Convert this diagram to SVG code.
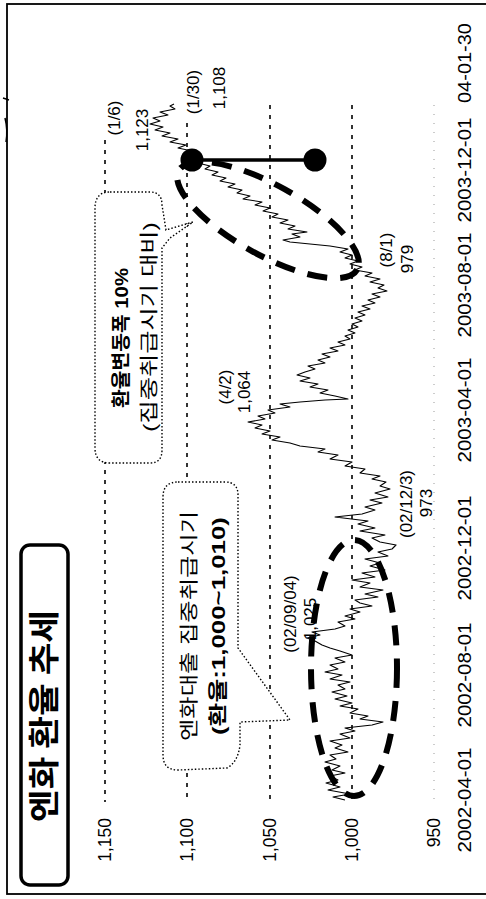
<svg xmlns="http://www.w3.org/2000/svg" width="486" height="899" viewBox="0 0 486 899">
<style>
.grid{stroke:#000;stroke-width:1.6;stroke-dasharray:4 6;fill:none}
.grid950{stroke:#999;stroke-width:1;stroke-dasharray:1 8;fill:none}
.ax{font-family:"Liberation Sans",Arial,sans-serif;font-size:17.5px;fill:#000}
.lbl{font-family:"Liberation Sans",Arial,sans-serif;font-size:17px;fill:#000}
.ko{font-family:"Liberation Sans","Noto Sans CJK KR",sans-serif;font-size:19px;fill:#000}
.b{font-weight:bold}
.call{fill:#fff;stroke:#000;stroke-width:1.4;stroke-dasharray:1.5 2}
.ell{fill:none;stroke:#000;stroke-width:6;stroke-dasharray:20 13}
</style>
<rect width="486" height="899" fill="#fff"/>
<g id="frame">
<rect x="7" y="4" width="500" height="890" fill="#fff" stroke="#000" stroke-width="1.8"/>
<path d="M3,98 L9,100 M5,118 Q8,130 6,142" fill="none" stroke="#000" stroke-width="1.5"/>
</g>
<g id="grid">
<line class="grid" x1="105" y1="140" x2="105" y2="802"/>
<line class="grid" x1="187" y1="123" x2="187" y2="802"/>
<line class="grid" x1="270" y1="105" x2="270" y2="802"/>
<line class="grid" x1="352" y1="105" x2="352" y2="802"/>
<line class="grid950" x1="434" y1="105" x2="434" y2="802"/>
</g>
<g id="series">
<polyline fill="none" stroke="#000" stroke-width="1.1" stroke-linejoin="round" points="345,800 333,797 350,794 328,790 340,787 326,783 338,780 330,776 345,773 332,770 340,766 325,762 336,759 330,755 348,752 335,748 342,745 330,741 350,738 340,734 355,731 345,728 372,725 383,722 360,719 368,716 350,713 358,709 340,706 352,703 335,699 347,696 332,692 345,689 338,685 350,682 330,679 342,675 325,672 338,669 330,665 345,662 335,658 352,655 340,651 330,648 322,645 315,641 307,638 320,635 312,632 335,629 345,626 338,622 355,619 345,616 360,612 350,609 372,606 360,603 355,600 378,597 365,594 383,590 360,587 370,583 352,580 375,577 362,573 385,570 370,566 380,563 365,559 388,556 378,552 392,549 396,545 380,542 372,538 385,535 360,531 375,528 358,524 368,521 335,517 362,514 375,510 365,507 382,503 370,500 388,497 375,493 390,489 380,486 386,482 372,479 380,476 360,473 365,469 345,466 352,462 330,459 338,455 318,452 325,449 300,446 290,443 272,440 280,437 262,434 270,431 255,428 262,425 248,422 265,419 258,416 275,413 268,410 290,407 280,404 300,402 325,400 348,399 335,396 320,393 328,390 310,387 318,384 300,381 310,378 297,375 305,372 315,369 308,366 325,363 318,360 330,357 322,354 338,351 330,348 345,345 338,342 350,339 345,336 355,333 348,330 358,327 352,324 362,321 355,318 365,315 358,312 370,309 362,306 375,303 368,300 380,297 372,294 387,291 378,288 384,285 370,282 380,279 365,276 372,273 355,270 362,267 350,264 358,261 345,258 352,255 340,252 348,249 330,246 310,244 290,242 283,240 300,237 292,234 307,232 288,229 295,226 280,223 288,220 272,217 278,214 263,211 270,208 255,205 262,202 243,199 250,196 237,193 242,190 228,187 235,184 220,181 226,178 212,175 218,172 205,169 210,166 198,163 192,160 200,157 185,154 192,151 178,148 186,145 170,142 178,139 162,136 170,133 155,130 163,127 150,124 160,121 153,118 168,115 160,112 175,109 170,106 174,104"/>
</g>
<g id="annotations">
<ellipse class="ell" cx="268" cy="220" rx="102" ry="35" transform="rotate(29 268 220)"/>
<ellipse class="ell" cx="354" cy="668" rx="43" ry="128"/>
<line x1="192" y1="160" x2="315" y2="160" stroke="#000" stroke-width="3.5"/>
<circle cx="192" cy="160" r="11.5" fill="#000"/>
<circle cx="315" cy="160" r="11.5" fill="#000"/>
</g>
<g id="callout-range">
<path class="call" d="M110,192 L150,192 Q162,192 162,205 L166,230 L193,222 L170,238 L162,248 L162,450 Q162,463 150,463 L110,463 Q95,463 95,448 L95,208 Q95,192 110,192 Z"/>
</g>
<g id="callout-period">
<path class="call" d="M178,482 L225,482 Q238,482 238,495 L238,648 L290,720 L240,722 L240,745 Q238,762 227,768 L178,770 Q163,770 163,755 L163,497 Q163,482 178,482 Z"/>
</g>
<g id="title">
<rect x="21" y="545" width="47" height="340" rx="9" fill="#fff" stroke="#000" stroke-width="3.5"/>
</g>
<g id="texts" transform="matrix(0,-1,1,0,0,899)">
<text x="183" y="54.5" text-anchor="middle" font-family="'Noto Sans CJK KR',sans-serif" font-weight="bold" font-size="31" textLength="212" lengthAdjust="spacingAndGlyphs">엔화 환율 추세</text>
<g class="ax" text-anchor="end">
<text x="81" y="111">1,150</text>
<text x="81" y="193">1,100</text>
<text x="81" y="276">1,050</text>
<text x="81" y="358">1,000</text>
<text x="81" y="440">950</text>
</g>
<g class="ax" text-anchor="middle" font-size="18">
<text x="99" y="471" textLength="105" lengthAdjust="spacingAndGlyphs">2002-04-01</text>
<text x="224" y="471" textLength="105" lengthAdjust="spacingAndGlyphs">2002-08-01</text>
<text x="351" y="471" textLength="105" lengthAdjust="spacingAndGlyphs">2002-12-01</text>
<text x="489" y="471" textLength="105" lengthAdjust="spacingAndGlyphs">2003-04-01</text>
<text x="614" y="471" textLength="105" lengthAdjust="spacingAndGlyphs">2003-08-01</text>
<text x="729" y="471" textLength="105" lengthAdjust="spacingAndGlyphs">2003-12-01</text>
<text x="836" y="471" textLength="80" lengthAdjust="spacingAndGlyphs">04-01-30</text>
</g>
<g class="lbl" text-anchor="middle">
<text x="781" y="120">(1/6)</text>
<text x="769" y="148">1,123</text>
<text x="807" y="199">(1/30)</text>
<text x="811" y="225">1,108</text>
<text x="512" y="231">(4/2)</text>
<text x="507" y="250">1,064</text>
<text x="285" y="296">(02/09/04)</text>
<text x="280" y="316">1,025</text>
<text x="395" y="412">(02/12/3)</text>
<text x="396" y="432">973</text>
<text x="649" y="392">(8/1)</text>
<text x="640" y="413">979</text>
</g>
<g class="ko" text-anchor="middle">
<text class="b" x="561" y="128" textLength="140" lengthAdjust="spacingAndGlyphs">환율변동폭 10%</text>
<text x="572" y="156" textLength="210" lengthAdjust="spacingAndGlyphs">(집중취급시기 대비)</text>
<text x="273" y="196" textLength="230" lengthAdjust="spacingAndGlyphs">엔화대출 집중취급시기</text>
<text class="b" x="273" y="225" textLength="218" lengthAdjust="spacingAndGlyphs">(환율:1,000~1,010)</text>
</g>
</g>
</svg>
